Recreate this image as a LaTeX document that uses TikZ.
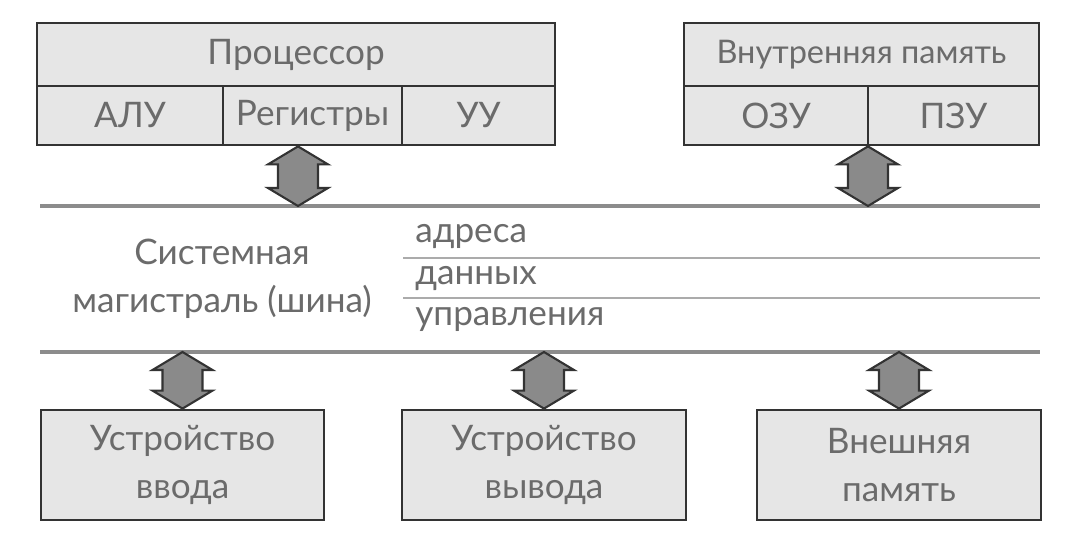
\documentclass[tikz,border=0pt]{standalone}
\usepackage{fontspec}
\setmainfont{Lato}
\usepackage{tikz}
\usetikzlibrary{positioning,calc}

\definecolor{boxfill}{HTML}{E6E6E6}
\definecolor{textgray}{HTML}{6B6B6B}
\definecolor{busgray}{HTML}{8C8C8C}
\definecolor{linegray}{HTML}{ABABAB}
\definecolor{arrowgray}{HTML}{8A8A8A}

\begin{document}
\begin{tikzpicture}[
    block/.style={draw=black!80, line width=1.6pt, fill=boxfill, rectangle, inner sep=0pt,
        align=center, text=textgray, font=\fontsize{20}{27}\selectfont},
    busline/.style={draw=busgray, line width=2.4pt},
    subline/.style={draw=linegray, line width=1.6pt},
    buslabel/.style={text=textgray, inner sep=0pt, font=\fontsize{20}{27}\selectfont},
    fatarrow/.style={draw=black!80, fill=arrowgray, line width=1.2pt, line join=miter,
        to path={-- ++(0.6,-0.36) -- ++(-0.2,0)
            -- ($(\tikztotarget)+(0.4,0.36)$) -- ++(0.2,0) -- (\tikztotarget)
            -- ++(-0.6,0.36) -- ++(0.2,0)
            -- ($(\tikztostart)+(-0.4,-0.36)$) -- ++(-0.2,0) -- cycle}}
]
    \useasboundingbox (0,0) rectangle (21.38,-10.8);

    % Processor
    \node[block, minimum width=10.36cm, minimum height=1.26cm] (cpu) at (5.92,-1.09) {Процессор};
    \node[block, minimum width=3.72cm, minimum height=1.18cm] (alu) at (2.60,-2.31) {АЛУ};
    \node[block, minimum width=3.58cm, minimum height=1.18cm] (regs) at (6.25,-2.31) {Регистры};
    \node[block, minimum width=3.06cm, minimum height=1.18cm] (cu) at (9.57,-2.31) {УУ};

    % Internal memory
    \node[block, minimum width=7.10cm, minimum height=1.26cm, font=\fontsize{18.5}{25}\selectfont] (mem) at (17.23,-1.09) {Внутренняя память};
    \node[block, minimum width=3.68cm, minimum height=1.18cm] (ram) at (15.52,-2.31) {ОЗУ};
    \node[block, minimum width=3.42cm, minimum height=1.18cm] (rom) at (19.07,-2.31) {ПЗУ};

    % System bus
    \coordinate (busTL) at (0.8,-4.12);
    \coordinate (busTR) at (20.8,-4.12);
    \coordinate (busBL) at (0.8,-7.04);
    \coordinate (busBR) at (20.8,-7.04);
    \coordinate (tapCPU) at (5.96,-4.12);
    \coordinate (tapMEM) at (17.36,-4.12);
    \draw[busline] (busTL) -- (busTR);
    \draw[busline] (busBL) -- (busBR);

    \node[buslabel, align=center] (buslbl) at (4.44,-5.58) {Системная\\магистраль (шина)};

    % Bus lines
    \node[buslabel, anchor=west] (addr) at (8.3,-4.74) {адреса};
    \node[buslabel, anchor=west] (data) at (8.3,-5.58) {данных};
    \node[buslabel, anchor=west] (ctrl) at (8.3,-6.38) {управления};
    \coordinate (addrL) at (8.06,-5.16);
    \coordinate (addrR) at (20.8,-5.16);
    \coordinate (dataL) at (8.06,-5.96);
    \coordinate (dataR) at (20.8,-5.96);
    \draw[subline] (addrL) -- (addrR);
    \draw[subline] (dataL) -- (dataR);

    % Devices
    \node[block, minimum width=5.66cm, minimum height=2.2cm] (inp) at (3.65,-9.30) {Устройство\\ввода};
    \node[block, minimum width=5.68cm, minimum height=2.2cm] (outp) at (10.88,-9.30) {Устройство\\вывода};
    \node[block, minimum width=5.68cm, minimum height=2.2cm] (ext) at (17.98,-9.30) {Внешняя\\память};

    % Connections
    \draw[fatarrow] (regs.south -| tapCPU) to (tapCPU);
    \draw[fatarrow] (ram.south -| tapMEM) to (tapMEM);
    \draw[fatarrow] (inp.north |- busBL) to (inp.north);
    \draw[fatarrow] (outp.north |- busBL) to (outp.north);
    \draw[fatarrow] (ext.north |- busBL) to (ext.north);

\end{tikzpicture}
\end{document}
